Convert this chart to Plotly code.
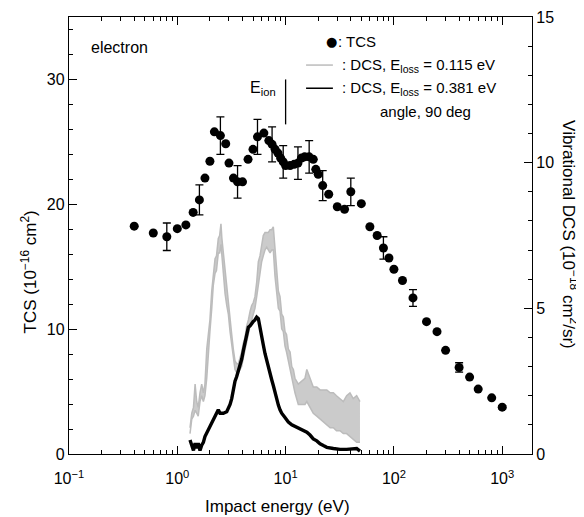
import plotly.graph_objects as go

# ---------------- data ----------------
tcs_energy = [0.4, 0.6, 0.8, 1.0, 1.2, 1.4, 1.6, 1.8, 2.0, 2.2, 2.5, 2.8, 3.0, 3.3, 3.6, 4.0,
              4.5, 5.0, 5.5, 6.3, 7.0, 7.5, 8.0, 8.5, 9.0, 9.5, 10, 11, 12, 13, 14, 15, 16.5,
              18, 19, 20, 22, 25, 30, 35, 40, 50, 60, 70, 80, 90, 100, 120, 150, 200, 250,
              300, 400, 500, 600, 800, 1000]
tcs_value = [18.25, 17.7, 17.4, 18.05, 18.35, 19.35, 20.35, 22.1, 23.45, 25.8, 25.5, 24.85,
             23.3, 22.1, 21.8, 21.8, 23.6, 24.4, 25.4, 25.7, 25.1, 24.8, 24.4, 24.1, 23.7,
             23.4, 23.1, 23.1, 23.2, 23.3, 23.7, 23.8, 23.8, 23.6, 22.8, 22.4, 21.5, 20.8,
             19.8, 19.6, 21.0, 20.05, 18.2, 17.5, 16.5, 15.7, 14.8, 13.9, 12.5, 10.6, 9.8,
             8.3, 6.93, 6.16, 5.2, 4.5, 3.75]
tcs_error = [None, None, 1.1, None, None, None, 1.2, None, None, None, 1.5, None,
             None, None, 1.3, None, None, None, 1.4, None, None, 1.4, None, None, None,
             1.3, None, None, None, 1.3, None, None, 1.3, None, None, None, 1.2, None,
             None, None, 1.1, None, None, None, 0.9, None, None, None, 0.67, None, None,
             None, 0.38, None, None, None, 0.13]

# DCS, E_loss = 0.115 eV (grey, noisy: lower / upper envelope of the trace)
dcs1_energy = [1.31, 1.36, 1.41, 1.46, 1.51, 1.56, 1.62, 1.68, 1.74, 1.80, 1.87, 1.94, 2.00,
               2.08, 2.15, 2.23, 2.30, 2.39, 2.46, 2.53, 2.58, 2.66, 2.76, 2.86, 2.96, 3.07,
               3.18, 3.29, 3.41, 3.53, 3.66, 3.79, 3.93, 4.07, 4.22, 4.37, 4.53, 4.70, 4.86,
               5.03, 5.21, 5.41, 5.60, 5.80, 6.01, 6.22, 6.45, 6.69, 6.92, 7.18, 7.44, 7.70,
               7.98, 8.27, 8.57, 8.88, 9.2, 9.53, 9.87, 10.2, 10.6, 11.0, 11.4, 11.8, 12.2,
               13.1, 14.1, 15.1, 15.7, 16.8, 18.0, 19.4, 20.8, 22.3, 24.0, 25.8, 27.6, 29.5,
               31.8, 34.1, 36.6, 39.3, 42.1, 45.3, 48.6]
dcs1_lower = [0.7, 1.2, 1.3, 1.5, 1.4, 1.3, 1.8, 2.0, 1.8, 2.0, 2.6, 3.6, 4.2,
              5.0, 5.8, 6.2, 6.3, 6.9, 6.9, 7.2, 6.8, 6.3, 5.5, 5.1, 4.8, 4.2,
              3.7, 3.2, 2.9, 2.8, 2.8, 2.9, 3.0, 3.3, 3.6, 3.9, 4.1, 4.4, 4.6,
              4.8, 5.0, 5.4, 5.8, 6.2, 6.6, 6.8, 7.0, 7.1, 7.0, 6.9, 7.0, 7.0,
              6.1, 5.6, 5.0, 4.9, 4.3, 4.2, 3.7, 3.5, 3.2, 3.0, 2.6, 2.4, 2.1,
              1.7, 1.7, 1.7, 1.8, 1.6, 1.4, 1.3, 1.2, 1.1, 1.0, 0.9, 0.9, 0.8,
              0.8, 0.7, 0.7, 0.6, 0.5, 0.4, 0.4]
dcs1_upper = [0.9, 1.4, 1.6, 2.4, 1.8, 1.6, 2.1, 2.4, 2.1, 2.4, 3.6, 4.1, 4.6,
              5.6, 6.2, 6.7, 6.8, 7.4, 7.5, 7.9, 7.4, 6.9, 6.4, 5.6, 5.2, 4.6,
              4.1, 3.6, 3.2, 3.1, 3.1, 3.3, 3.5, 3.8, 4.0, 4.4, 4.6, 4.9, 5.1,
              5.2, 5.4, 5.9, 6.6, 6.8, 7.2, 7.5, 7.6, 7.6, 7.6, 7.7, 7.7, 7.8,
              7.0, 6.4, 5.6, 5.4, 4.8, 4.7, 4.2, 4.1, 3.6, 3.5, 3.0, 2.9, 2.6,
              2.4, 2.5, 2.6, 2.9, 2.6, 2.3, 2.3, 2.2, 2.2, 2.2, 2.1, 2.1, 2.0,
              1.9, 1.8, 2.0, 2.1, 1.9, 2.0, 1.8]

# DCS, E_loss = 0.381 eV (black)
dcs2_energy = [1.31, 1.36, 1.41, 1.46, 1.51, 1.56, 1.62, 1.68, 1.74, 1.80, 1.87, 1.94, 2.00,
               2.08, 2.15, 2.23, 2.30, 2.39, 2.48, 2.66, 2.86, 2.96, 3.07, 3.18, 3.29, 3.41,
               3.53, 3.66, 3.79, 3.93, 4.07, 4.22, 4.37, 4.53, 4.70, 4.86, 5.03, 5.21, 5.41,
               5.60, 5.80, 6.01, 6.22, 6.45, 6.69, 6.92, 7.18, 7.44, 7.70, 7.98, 8.27, 8.57,
               8.88, 9.2, 9.87, 10.6, 11.4, 12.2, 13.1, 14.1, 15.7, 16.8, 18.0, 19.4, 20.8,
               22.3, 24.0, 27.6, 31.8, 36.6, 42.1, 45.3, 48.6]
dcs2_value = [0.48, 0.25, 0.12, 0.37, 0.2, 0.37, 0.12, 0.3, 0.4, 0.6, 0.72, 0.85, 0.95,
              1.05, 1.15, 1.3, 1.4, 1.52, 1.4, 1.4, 1.45, 1.55, 1.7, 1.9, 2.2, 2.5,
              2.65, 2.85, 3.0, 3.25, 3.55, 3.8, 4.1, 4.35, 4.4, 4.5, 4.55, 4.6, 4.7,
              4.65, 4.3, 3.95, 3.75, 3.45, 3.2, 2.95, 2.75, 2.55, 2.35, 2.1, 1.88, 1.68,
              1.52, 1.4, 1.25, 1.1, 1.0, 0.95, 0.9, 0.85, 0.75, 0.65, 0.52, 0.45, 0.35,
              0.29, 0.23, 0.19, 0.16, 0.16, 0.19, 0.19, 0.1]

# ionisation energy marker
eion_energy = [10, 10]
eion_span = [26.4, 30.0]

x_tick_vals = [0.1, 1, 10, 100, 1000]
x_tick_text = ["10<sup>\u22121</sup>", "10<sup>0</sup>", "10<sup>1</sup>",
               "10<sup>2</sup>", "10<sup>3</sup>"]
x_minor_vals = [m * d for d in (0.1, 1, 10, 100, 1000) for m in range(2, 10)]

FONT = "Liberation Sans, Arial, Helvetica, sans-serif"
GREY = "#bcbcbc"
GREY_FILL = "#cbcbcb"

fig = go.Figure()

# grey DCS band
fig.add_trace(go.Scatter(x=dcs1_energy, y=dcs1_lower, yaxis="y2", mode="lines",
                         line=dict(color=GREY, width=1.5), hoverinfo="skip"))
fig.add_trace(go.Scatter(x=dcs1_energy, y=dcs1_upper, yaxis="y2", mode="lines",
                         line=dict(color=GREY, width=1.5), fill="tonexty",
                         fillcolor=GREY_FILL, hoverinfo="skip"))
# black DCS trace
fig.add_trace(go.Scatter(x=dcs2_energy, y=dcs2_value, yaxis="y2", mode="lines",
                         line=dict(color="black", width=3.4), hoverinfo="skip"))

# TCS
fig.add_trace(go.Scatter(x=tcs_energy, y=tcs_value, mode="markers",
                         marker=dict(color="black", size=9),
                         error_y=dict(type="data", array=tcs_error, visible=True,
                                      color="black", thickness=1.3, width=4)))
# E_ion tick
fig.add_trace(go.Scatter(x=eion_energy, y=eion_span, mode="lines",
                         line=dict(color="black", width=1.3), hoverinfo="skip"))

axis_common = dict(showline=True, linecolor="black", linewidth=1.3, ticks="inside",
                   tickcolor="black", tickwidth=1.2, showgrid=False, zeroline=False,
                   automargin=False,
                   tickfont=dict(size=16, color="black", family=FONT))

# page body adds an 8 px offset, so the figure is 8 px smaller than the window
fig.update_layout(
    width=576, height=509,
    margin=dict(l=61, r=52, t=9, b=63, autoexpand=False),
    paper_bgcolor="white", plot_bgcolor="white",
    showlegend=False,
    font=dict(family=FONT, color="black", size=16),
    xaxis=dict(type="log", range=[-1, 3.275], tickmode="array", tickvals=x_tick_vals,
               ticktext=x_tick_text, ticklen=8, mirror="ticks", ticklabelstandoff=10,
               minor=dict(ticks="inside", ticklen=4, tickvals=x_minor_vals,
                          tickcolor="black", tickwidth=1.1),
               **axis_common),
    yaxis=dict(range=[0, 35], tickmode="linear", tick0=0, dtick=10, ticklen=8,
               minor=dict(ticks="inside", ticklen=4, dtick=2, tickcolor="black",
                          tickwidth=1.1),
               **axis_common),
    yaxis2=dict(range=[0, 15], overlaying="y", side="right", anchor="x",
                tickmode="linear", tick0=0, dtick=5, ticklen=8,
                minor=dict(ticks="inside", ticklen=4, dtick=1, tickcolor="black",
                           tickwidth=1.1),
                **axis_common),
)

ann = [
    dict(text="Impact energy (eV)", x=0.451, y=-0.121, xanchor="center", yanchor="middle",
         font=dict(size=17)),
    dict(text="TCS (10<sup>\u221216</sup> cm<sup>2</sup>)", x=-0.086, y=0.416,
         xanchor="center", yanchor="middle", textangle=-90, font=dict(size=17)),
    dict(text="Vibrational DCS (10<sup>\u221218</sup> cm<sup>2</sup>/sr)", x=1.082, y=0.501,
         xanchor="center", yanchor="middle", textangle=90, font=dict(size=17)),
    dict(text="electron", x=0.043, y=0.931, xanchor="left", yanchor="middle",
         font=dict(size=16)),
    dict(text="E<sub>ion</sub>", x=0.451, y=0.8375, xanchor="right", yanchor="middle",
         font=dict(size=16)),
    dict(text="\u25cf", x=0.566, y=0.944, xanchor="center", yanchor="middle",
         font=dict(size=13, family="DejaVu Sans")),
    dict(text=": TCS", x=0.576, y=0.943, xanchor="left", yanchor="middle",
         font=dict(size=15)),
    dict(text=": DCS, E<sub>loss</sub> = 0.115 eV", x=0.585, y=0.890, xanchor="left",
         yanchor="middle", font=dict(size=15)),
    dict(text=": DCS, E<sub>loss</sub> = 0.381 eV", x=0.585, y=0.837, xanchor="left",
         yanchor="middle", font=dict(size=15)),
    dict(text="angle, 90 deg", x=0.769, y=0.783, xanchor="center", yanchor="middle",
         font=dict(size=15)),
]
for a in ann:
    a.update(xref="paper", yref="paper", showarrow=False)
fig.update_layout(annotations=ann)

fig.update_layout(shapes=[
    dict(type="line", xref="paper", yref="paper", x0=0.512, x1=0.570, y0=0.890, y1=0.890,
         line=dict(color=GREY, width=1.5)),
    dict(type="line", xref="paper", yref="paper", x0=0.512, x1=0.570, y0=0.837, y1=0.837,
         line=dict(color="black", width=1.5)),
])

fig.write_html("out.html")
